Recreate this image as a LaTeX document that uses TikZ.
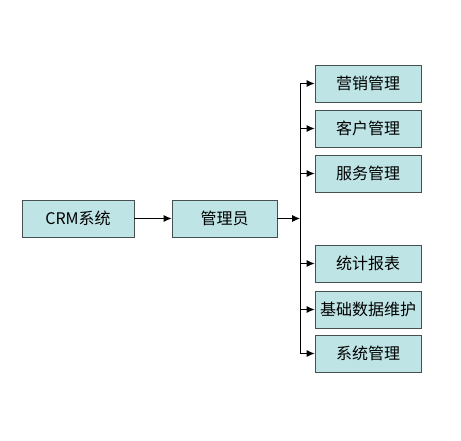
\documentclass[tikz,border=0pt]{standalone}
\usepackage{fontspec}
\setmainfont{Noto Sans CJK SC}
\usetikzlibrary{arrows.meta,shadows}
\definecolor{boxfill}{RGB}{191,228,229}
\definecolor{boxline}{RGB}{70,80,80}
\tikzset{
  modbox/.style={draw=boxline,fill=boxfill,line width=0.8pt,
    minimum width=106pt,minimum height=37pt,inner sep=0pt,
    font=\fontsize{16}{19}\selectfont,
    drop shadow={shadow xshift=1.3pt,shadow yshift=-1.3pt,opacity=0.7,fill=boxline}},
  link/.style={line width=0.8pt,-{Latex[length=8pt,width=7pt]}}
}
\begin{document}
\begin{tikzpicture}[x=1pt,y=-1pt]
    \useasboundingbox[fill=white] (0,0) rectangle (461,441);
    % left part
    \node[modbox,minimum width=112pt] (crm) at (78,218.5) {CRM系统};
    \node[modbox,minimum width=105pt] (admin) at (224.5,218.5) {管理员};
    \coordinate (hub) at (300,218.5);
    % right column
    \node[modbox] (sales) at (368,83.5) {营销管理};
    \node[modbox] (client) at (368,128.5) {客户管理};
    \node[modbox] (service) at (368,173.5) {服务管理};
    \node[modbox] (report) at (368,263.5) {统计报表};
    \node[modbox] (basedata) at (368,309.5) {基础数据维护};
    \node[modbox] (sysmgr) at (368,353.5) {系统管理};
    % connectors
    \draw[link] (crm) -- (admin);
    \draw[link] (admin) -- (hub);
    \foreach \m in {sales,client,service,report,basedata,sysmgr}
      \draw[link] (hub) |- (\m.west);
  \end{tikzpicture}
\end{document}
